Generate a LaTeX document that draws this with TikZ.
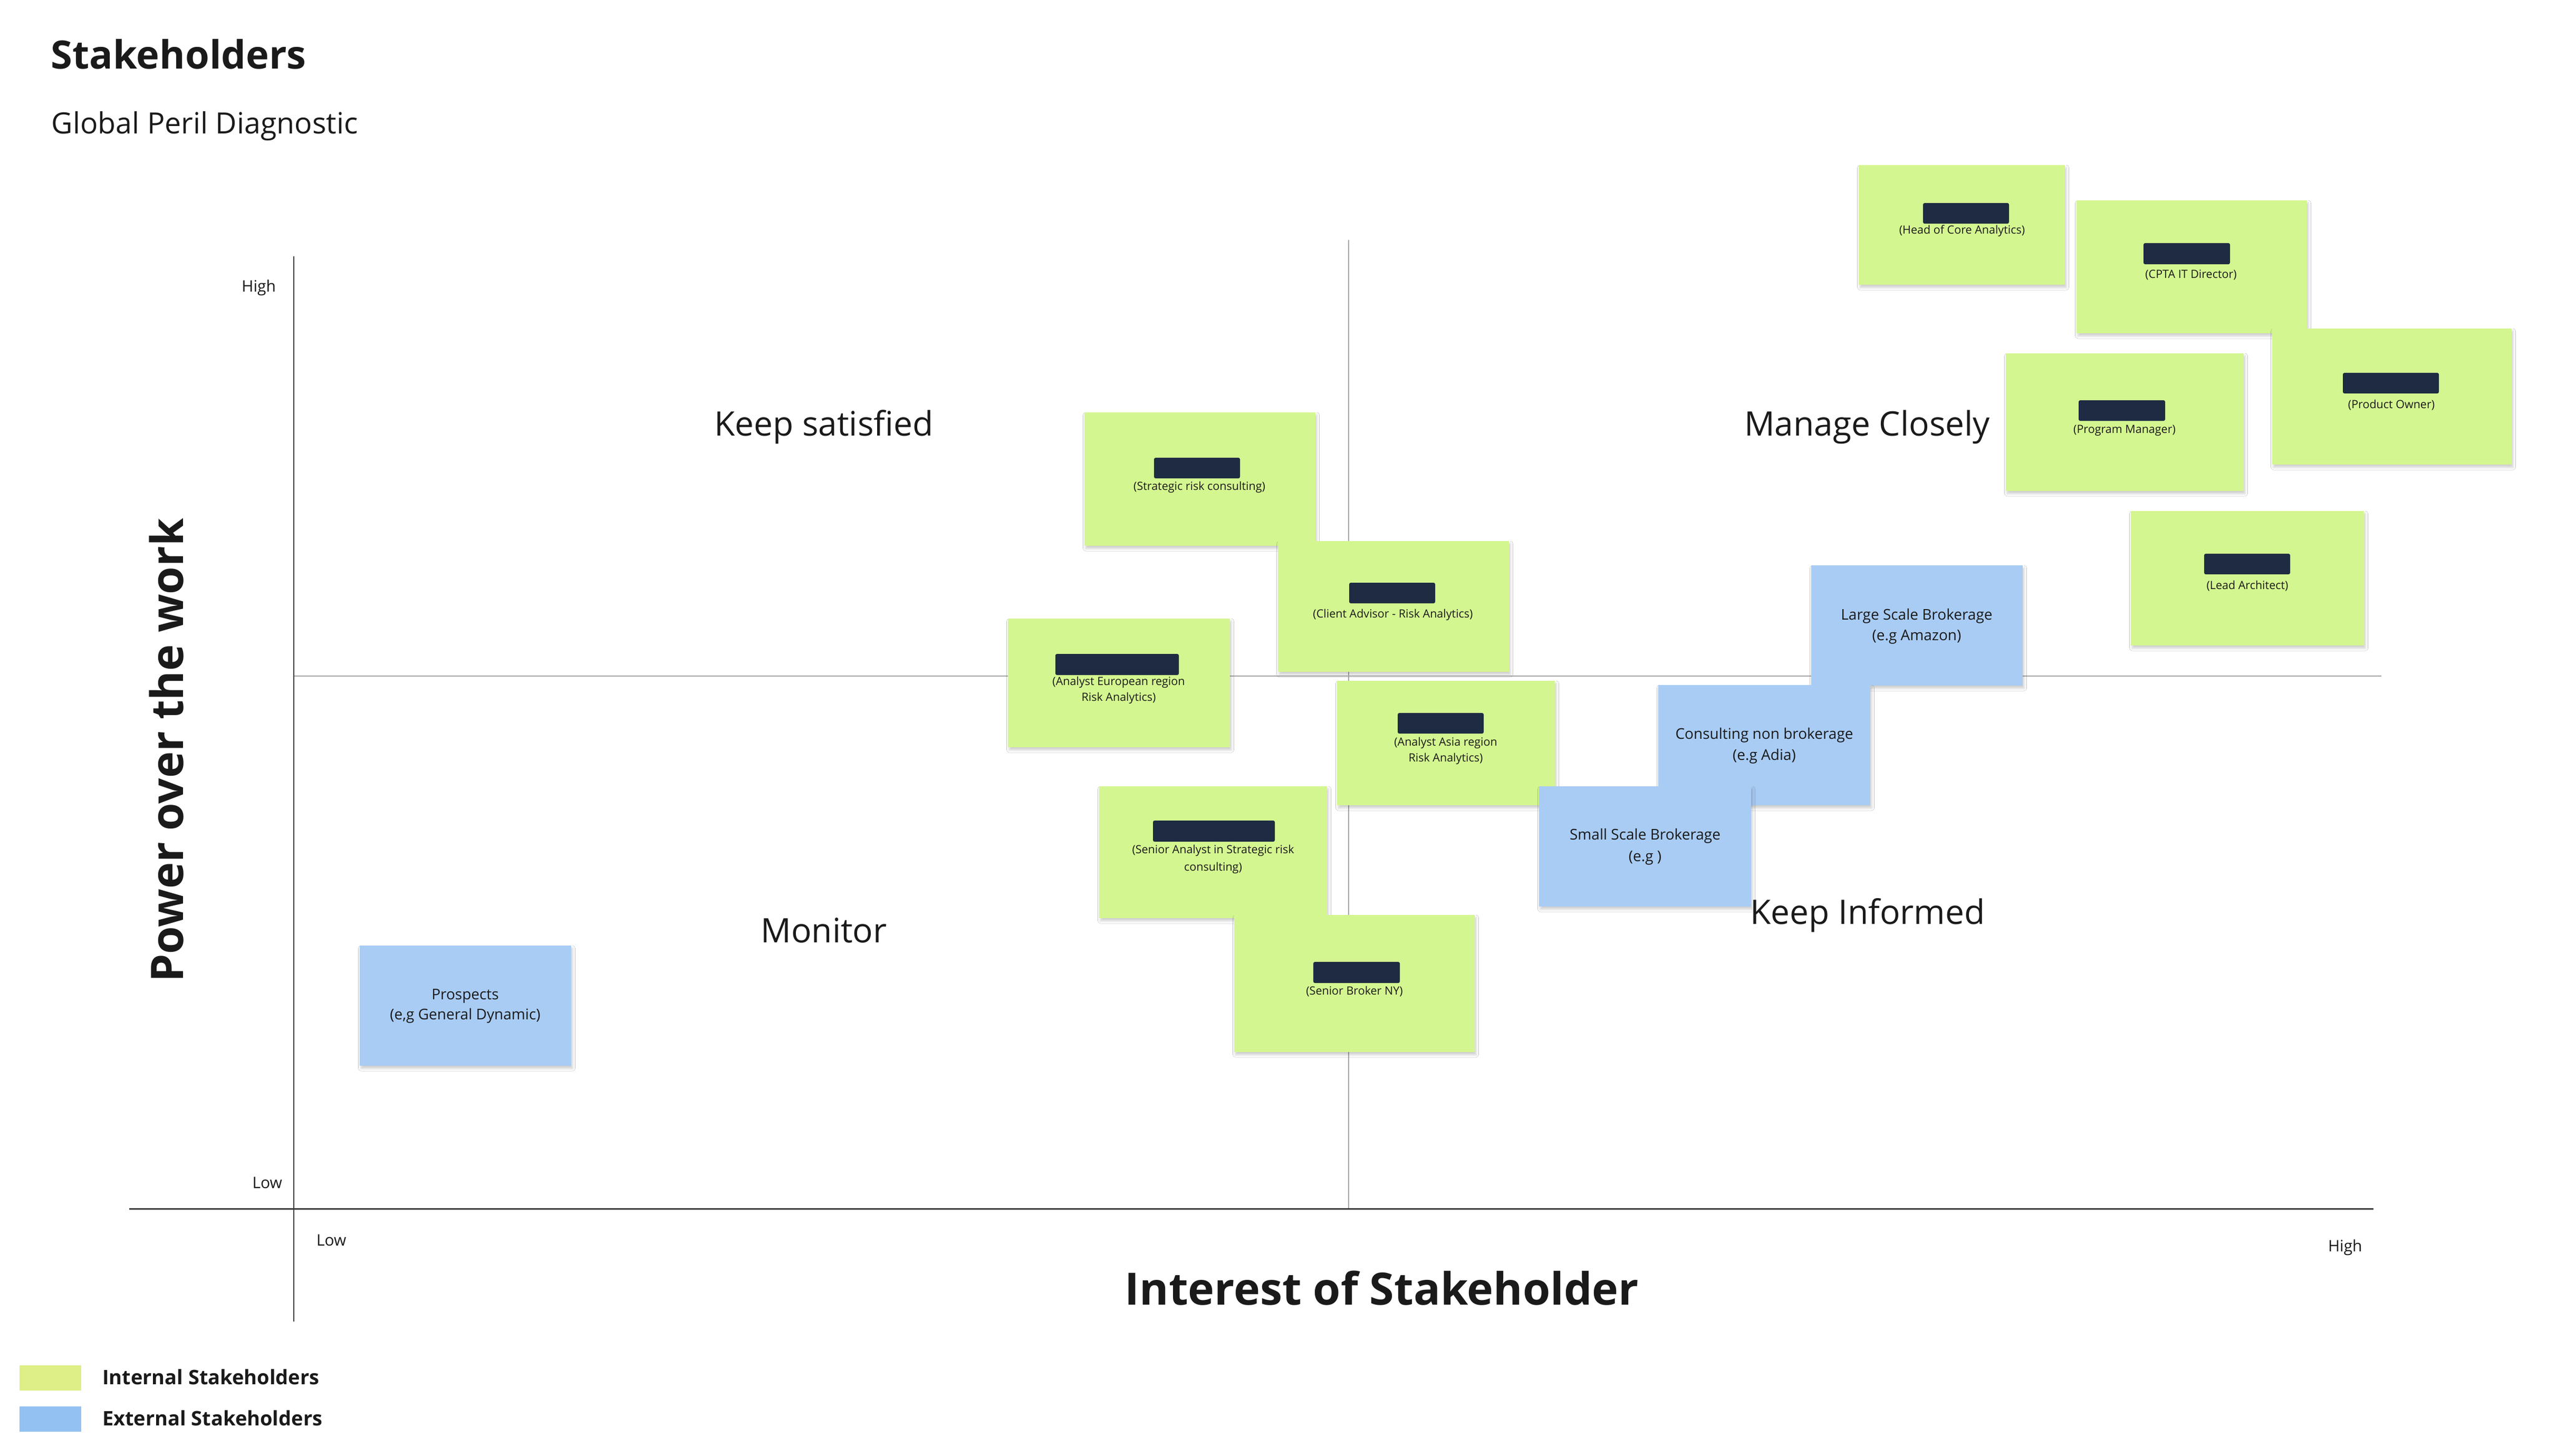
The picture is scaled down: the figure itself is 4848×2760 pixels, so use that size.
\documentclass[tikz,border=0pt]{standalone}
\usepackage{fontspec}
\setmainfont{Open Sans}
\usetikzlibrary{fit,shadows.blur}
\definecolor{notegreen}{HTML}{D4F690}
\definecolor{noteblue}{HTML}{A8CCF4}
\definecolor{leggreen}{HTML}{DEEF87}
\definecolor{legblue}{HTML}{93C2F2}
\definecolor{redact}{HTML}{1E2B42}
\definecolor{ink}{HTML}{1A1A1A}
\definecolor{gridgrey}{HTML}{A5A5A5}
\definecolor{axisdark}{HTML}{3C3C3C}
\begin{document}
\begin{tikzpicture}[x=0.1pt,y=-0.1pt,
  gnote/.style={fill=notegreen, inner sep=0pt, blur shadow={shadow xshift=0.25pt, shadow yshift=-0.5pt, shadow blur radius=0.5pt, shadow opacity=20}},
  bnote/.style={gnote, fill=noteblue},
  redactbar/.style={fill=redact, inner sep=0pt, rounded corners=0.3pt},
  ntext/.style={font=\fontsize{2.15pt}{2.6pt}\selectfont, text=ink, inner sep=0pt, anchor=base},
  btext/.style={font=\fontsize{2.8pt}{3.4pt}\selectfont, text=ink, inner sep=0pt, anchor=base},
  quad/.style={font=\fontsize{6.4pt}{7.7pt}\selectfont, text=ink, inner sep=0pt, anchor=base},
  tick/.style={font=\fontsize{3pt}{3.6pt}\selectfont, text=ink, inner sep=0pt},
  axistitle/.style={font=\bfseries\fontsize{8.45pt}{10pt}\selectfont, text=ink, inner sep=0pt, anchor=base},
  legtext/.style={font=\bfseries\fontsize{3.8pt}{4.6pt}\selectfont, text=ink, inner sep=0pt, anchor=base west},
  swatch/.style={inner sep=0pt},
  plain/.style={inner sep=0pt, text=ink, anchor=base west},
]
\fill[white] (0,0) rectangle (4848,2760);
\useasboundingbox (0,0) rectangle (4848,2760);

% ---------- axes ----------
\coordinate (yTop) at (557,486);
\coordinate (yBot) at (557,2506);
\coordinate (xL) at (245,2292);
\coordinate (xR) at (4500,2292);
\coordinate (mvT) at (2557,455);
\coordinate (mvB) at (2557,2292);
\coordinate (mhL) at (557,1282);
\coordinate (mhR) at (4515,1282);
\draw[gridgrey, line width=0.22pt] (mvT) -- (mvB);
\draw[gridgrey, line width=0.25pt] (mhL) -- (mhR);
\draw[axisdark, line width=0.2pt] (yTop) -- (yBot);
\draw[axisdark, line width=0.3pt] (xL) -- (xR);

% ---------- titles ----------
\node[plain, font=\bfseries\fontsize{7.4pt}{9pt}\selectfont] (title) at (95,130) {Stakeholders};
\node[plain, font=\fontsize{5.55pt}{6.7pt}\selectfont] (subtitle) at (96,253) {Global Peril Diagnostic};

% ---------- ticks ----------
\node[tick, anchor=base east] (yhigh) at (525,553) {High};
\node[tick, anchor=base east] (ylow) at (537,2253) {Low};
\node[tick, anchor=base west] (xlow) at (598,2362) {Low};
\node[tick, anchor=base west] (xhigh) at (4412,2373) {High};

% ---------- axis titles ----------
\node[axistitle] (xtitle) at (2620,2474) {Interest of Stakeholder};
\node[axistitle, font=\bfseries\fontsize{8.5pt}{10pt}\selectfont, rotate=90] (ytitle) at (347,1423) {Power over the work};

% ---------- quadrant labels ----------
\node[quad] (qks) at (1562,826) {Keep satisfied};
\node[quad] (qmc) at (3540,826) {Manage Closely};
\node[quad] (qmon) at (1562,1787) {Monitor};
\node[quad] (qki) at (3541,1752) {Keep Informed};

% ---------- internal stakeholders ----------
\node[gnote, fit={(3524,313)(3915,540)}] (head) {};
\node[redactbar, fit={(3646,385)(3809,424)}] (headbar) {};
\node[ntext] (headt) at (3720,443) {(Head of Core Analytics)};

\node[gnote, fit={(3937,380)(4374,632)}] (cpta) {};
\node[redactbar, fit={(4064,461)(4228,501)}] (cptabar) {};
\node[ntext] (cptat) at (4154,527) {(CPTA IT Director)};

\node[gnote, fit={(3803,670)(4254,931)}] (pm) {};
\node[redactbar, fit={(3941,759)(4105,798)}] (pmbar) {};
\node[ntext] (pmt) at (4028,821) {(Program Manager)};

\node[gnote, fit={(4308,623)(4762,881)}] (po) {};
\node[redactbar, fit={(4442,707)(4624,746)}] (pobar) {};
\node[ntext] (pot) at (4534,774) {(Product Owner)};

\node[gnote, fit={(4040,969)(4482,1224)}] (lead) {};
\node[redactbar, fit={(4179,1050)(4342,1089)}] (leadbar) {};
\node[ntext] (leadt) at (4261,1117) {(Lead Architect)};

\node[gnote, fit={(2056,782)(2494,1035)}] (strat) {};
\node[redactbar, fit={(2188,868)(2351,907)}] (stratbar) {};
\node[ntext] (stratt) at (2274,929) {(Strategic risk consulting)};

\node[gnote, fit={(2423,1026)(2861,1274)}] (client) {};
\node[redactbar, fit={(2558,1105)(2721,1144)}] (clientbar) {};
\node[ntext] (clientt) at (2641,1171) {(Client Advisor - Risk Analytics)};

\node[gnote, fit={(1911,1173)(2332,1417)}] (euro) {};
\node[redactbar, fit={(2001,1240)(2235,1280)}] (eurobar) {};
\node[ntext] (eurot1) at (2121,1299) {(Analyst European region};
\node[ntext] (eurot2) at (2121,1329) {Risk Analytics)};

\node[gnote, fit={(2535,1291)(2948,1527)}] (asia) {};
\node[redactbar, fit={(2650,1352)(2813,1391)}] (asiabar) {};
\node[ntext] (asiat1) at (2741,1414) {(Analyst Asia region};
\node[ntext] (asiat2) at (2741,1444) {Risk Analytics)};

\node[gnote, fit={(2084,1491)(2516,1741)}] (sa) {};
\node[redactbar, fit={(2186,1556)(2417,1596)}] (sabar) {};
\node[ntext] (sat1) at (2300,1618) {(Senior Analyst in Strategic risk};
\node[ntext] (sat2) at (2300,1651) {consulting)};

\node[gnote, fit={(2340,1735)(2796,1995)}] (broker) {};
\node[redactbar, fit={(2490,1824)(2654,1864)}] (brokerbar) {};
\node[ntext] (brokert) at (2568,1886) {(Senior Broker NY)};

% ---------- external stakeholders ----------
\node[bnote, fit={(3434,1072)(3835,1300)}] (large) {};
\node[btext] (larget1) at (3634,1175) {Large Scale Brokerage};
\node[btext] (larget2) at (3634,1214) {(e.g Amazon)};

\node[bnote, fit={(3144,1299)(3546,1527)}] (consult) {};
\node[btext] (consultt1) at (3345,1401) {Consulting non brokerage};
\node[btext] (consultt2) at (3345,1441) {(e.g Adia)};

\node[bnote, fit={(2918,1491)(3320,1719)}] (small) {};
\node[btext] (smallt1) at (3119,1592) {Small Scale Brokerage};
\node[btext] (smallt2) at (3119,1633) {(e.g )};

\node[bnote, fit={(682,1793)(1083,2021)}] (prosp) {};
\node[btext] (prospt1) at (882,1895) {Prospects};
\node[btext] (prospt2) at (882,1933) {(e,g General Dynamic)};

% ---------- legend ----------
\node[swatch, fill=leggreen, fit={(37,2589)(154,2637)}] (legG) {};
\node[swatch, fill=legblue, fit={(37,2667)(154,2715)}] (legB) {};
\node[legtext] (legGt) at (192,2625) {Internal Stakeholders};
\node[legtext] (legBt) at (192,2703) {External Stakeholders};
\end{tikzpicture}
\end{document}
